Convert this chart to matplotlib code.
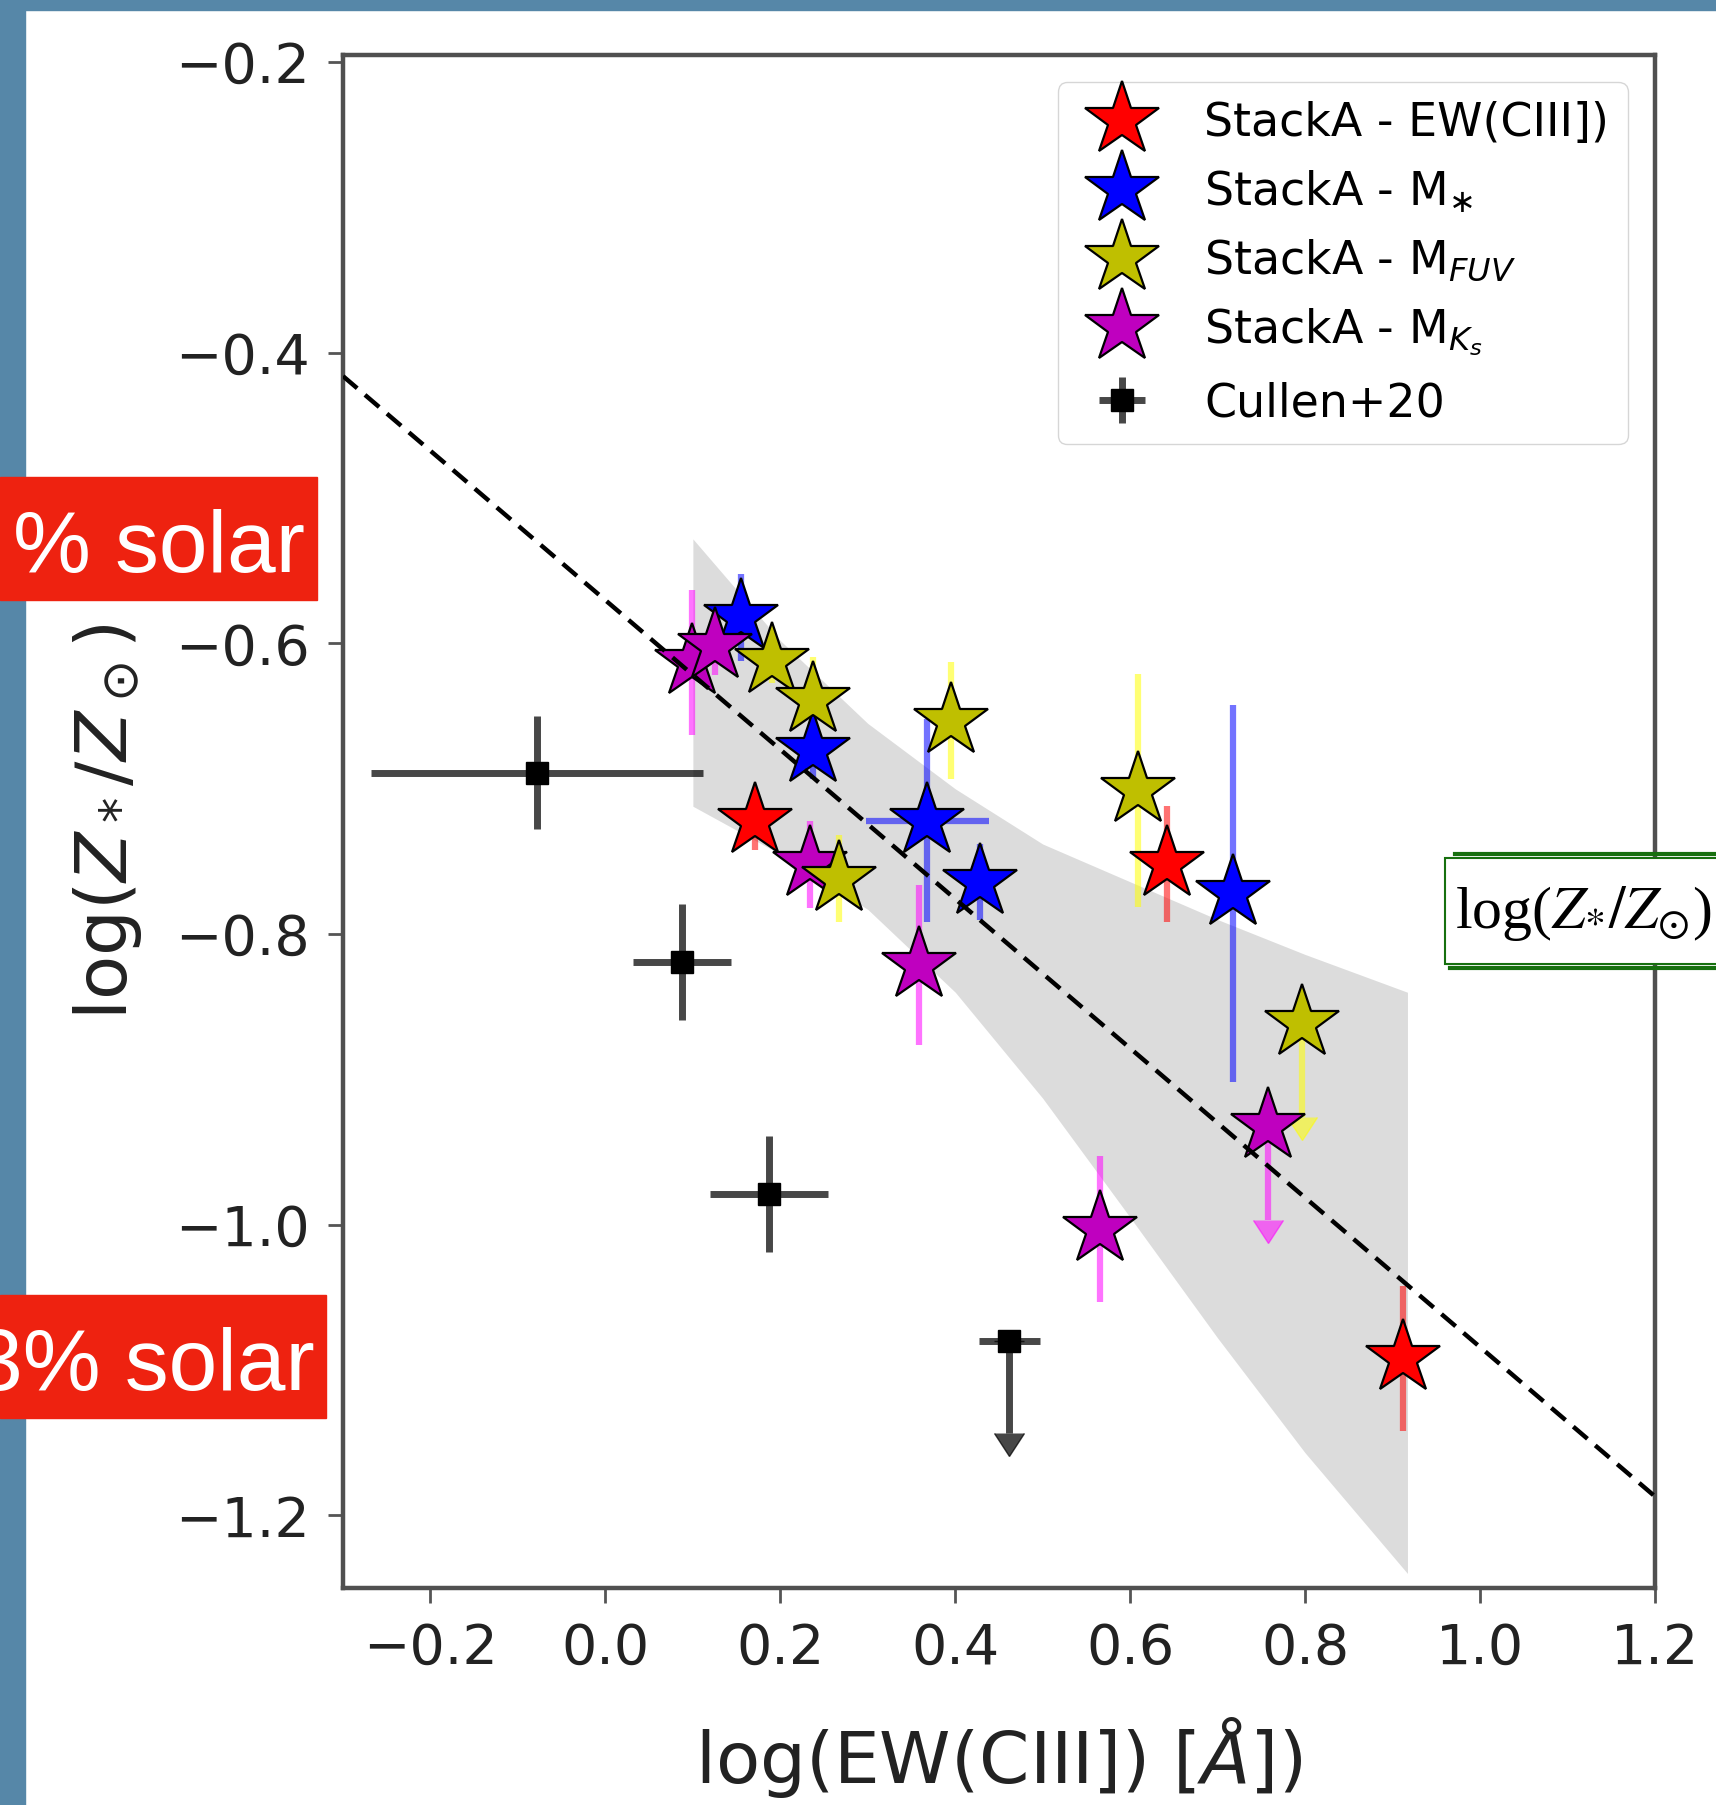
import matplotlib
matplotlib.use("Agg")
import matplotlib.pyplot as plt
import numpy as np
from matplotlib.patches import Rectangle
from matplotlib.lines import Line2D

# StackA points, log(EW(CIII])) vs log(Z*/Zsun)
ew_x = [0.171, 0.642, 0.912]
ew_y = [-0.722, -0.752, -1.092]
ew_yerr = [0.02, 0.04, 0.05]
ew_uplim = [False, False, False]

mstar_x = [0.155, 0.237, 0.368, 0.428, 0.717]
mstar_y = [-0.582, -0.673, -0.722, -0.764, -0.772]
mstar_xerr = [0.0, 0.0, 0.07, 0.0, 0.0]
mstar_yerr = [0.03, 0.02, 0.07, 0.026, 0.13]
mstar_uplim = [False, False, False, False, False]

mfuv_x = [0.191, 0.237, 0.267, 0.395, 0.609, 0.796]
mfuv_y = [-0.612, -0.639, -0.762, -0.653, -0.701, -0.861]
mfuv_yerr = [0.015, 0.03, 0.03, 0.04, 0.08, 0.065]
mfuv_uplim = [False, False, False, False, False, True]

mks_x = [0.099, 0.125, 0.234, 0.358, 0.566, 0.757]
mks_y = [-0.613, -0.602, -0.752, -0.821, -1.003, -0.932]
mks_yerr = [0.05, 0.02, 0.03, 0.055, 0.05, 0.065]
mks_uplim = [False, False, False, False, False, True]

cullen_x = [-0.078, 0.088, 0.187, 0.462]
cullen_y = [-0.689, -0.819, -0.979, -1.080]
cullen_xerr = [0.19, 0.056, 0.067, 0.035]
cullen_yerr = [0.039, 0.04, 0.04, 0.063]
cullen_uplim = [False, False, False, True]

# fit line end points and confidence band
fit_x = [-0.3, 1.2]
fit_y = [-0.416, -1.187]
band_x = [0.1, 0.2, 0.3, 0.4, 0.5, 0.6, 0.7, 0.8, 0.917]
band_hi = [-0.528, -0.598, -0.655, -0.700, -0.738, -0.764, -0.790, -0.814, -0.840]
band_lo = [-0.712, -0.745, -0.783, -0.840, -0.913, -0.995, -1.078, -1.157, -1.240]

xticks = [-0.2, 0.0, 0.2, 0.4, 0.6, 0.8, 1.0, 1.2]
yticks = [-1.2, -1.0, -0.8, -0.6, -0.4, -0.2]

W, H = 1716, 1805
fig = plt.figure(figsize=(W / 100, H / 100), dpi=100)
fig.patch.set_facecolor("white")

# slide background strips
fig.add_artist(Rectangle((0, 0), 25 / W, 1, transform=fig.transFigure, color="#5687a8", zorder=0))
fig.add_artist(Rectangle((0, 1 - 10 / H), 1, 10 / H, transform=fig.transFigure, color="#5687a8", zorder=0))

ax = fig.add_axes([343 / W, 1 - 1588 / H, 1312 / W, 1533 / H])
ax.set_xlim(-0.3, 1.2)
ax.set_ylim(-1.25, -0.195)

ax.fill_between(band_x, band_lo, band_hi, color="grey", alpha=0.27, linewidth=0, zorder=1)
ax.plot(fit_x, fit_y, color="black", lw=3.2, dashes=(4.2, 2.3), zorder=5)


def stack(x, y, yerr, uplim, color, ecolor, label, xerr=None):
    x = np.array(x); y = np.array(y); yerr = np.array(yerr); uplim = np.array(uplim)
    ok = ~uplim
    xe = None if xerr is None else np.array(xerr)[ok]
    ax.errorbar(x[ok], y[ok], yerr=yerr[ok], xerr=xe, fmt="none", color=ecolor, ecolor=ecolor,
                alpha=0.55, elinewidth=4.5, capsize=0, zorder=2)
    if uplim.any():
        ax.errorbar(x[uplim], y[uplim], yerr=yerr[uplim], uplims=True, fmt="none",
                    color=ecolor, ecolor=ecolor, alpha=0.55, elinewidth=4.5, capsize=11, zorder=2)
    h, = ax.plot(x, y, ls="none", marker="*", ms=56, mfc=color, mec="black",
                 mew=1.6, zorder=3, label=label)
    return h


h_ew = stack(ew_x, ew_y, ew_yerr, ew_uplim, "red", "red", "StackA - EW(CIII])")
h_ms = stack(mstar_x, mstar_y, mstar_yerr, mstar_uplim, "blue", "blue",
             r"StackA - M$_{\ast}$", xerr=mstar_xerr)
h_mk = stack(mks_x, mks_y, mks_yerr, mks_uplim, "m", "magenta", r"StackA - M$_{K_s}$")
h_fu = stack(mfuv_x, mfuv_y, mfuv_yerr, mfuv_uplim, "y", "yellow", r"StackA - M$_{FUV}$")

cx = np.array(cullen_x); cy = np.array(cullen_y)
cxe = np.array(cullen_xerr); cye = np.array(cullen_yerr); cl = np.array(cullen_uplim)
cgrey = (0, 0, 0, 0.72)
h_cu = ax.errorbar(cx[~cl], cy[~cl], xerr=cxe[~cl], yerr=cye[~cl], fmt="s", color="black",
                   ms=16, ecolor=cgrey, elinewidth=5, zorder=2, label="Cullen+20")
ax.errorbar(cx[cl], cy[cl], xerr=cxe[cl], fmt="none", color=cgrey, ecolor=cgrey, elinewidth=5, zorder=2)
ax.errorbar(cx[cl], cy[cl], yerr=cye[cl], uplims=True, fmt="none", color=cgrey, ecolor=cgrey,
            elinewidth=5, capsize=11, zorder=2)
ax.plot(cx[cl], cy[cl], ls="none", marker="s", ms=16, color="black", zorder=2)

ax.legend(handles=[h_ew, h_ms, h_fu, h_mk, h_cu], loc="upper right", fontsize=33,
          borderaxespad=0.6)

ax.set_xticks(xticks)
ax.set_yticks(yticks)
ax.tick_params(labelsize=40, length=11, width=2, pad=13, colors="#555555", labelcolor="#222222")
for sp in ax.spines.values():
    sp.set_linewidth(3.2)
    sp.set_color("#505050")

ax.set_xlabel(r"log(EW(CIII]) [$Å$])", fontsize=52, color="#222222")
ax.set_ylabel(r"log($Z_*/Z_\odot$)", fontsize=52, color="#222222")
ax.xaxis.set_label_coords(0.5, -0.083)
ax.yaxis.set_label_coords(-0.152, 0.5)

# red annotation boxes
red = "#ee2210"
fig.add_artist(Rectangle((0, 1 - 600 / H), 317 / W, 123 / H, transform=fig.transFigure,
                         color=red, zorder=6))
fig.add_artist(Rectangle((0, 1 - 1418 / H), 326 / W, 123 / H, transform=fig.transFigure,
                         color=red, zorder=6))
fig.text(305 / W, 1 - 572 / H, "% solar", ha="right", va="baseline", color="white",
         fontsize=63, family="Liberation Sans", zorder=7)
fig.text(315 / W, 1 - 1390 / H, "3% solar", ha="right", va="baseline", color="white",
         fontsize=63, family="Liberation Sans", zorder=7)

# green sketch box on the right
green = "#17700f"
fig.add_artist(Rectangle((1445 / W, 1 - 964 / H), 300 / W, 106 / H, transform=fig.transFigure,
                         facecolor="white", edgecolor=green, lw=1.5, zorder=6))
fig.add_artist(Line2D([1455 / W, 1], [1 - 854 / H, 1 - 854 / H], transform=fig.transFigure,
                      color=green, lw=3, zorder=7))
fig.add_artist(Line2D([1450 / W, 1], [1 - 968 / H, 1 - 968 / H], transform=fig.transFigure,
                      color=green, lw=3, zorder=7))
fig.text(1455 / W, 1 - 928 / H, r"log($Z_{*}/Z_{\odot}$)", ha="left", va="baseline",
         fontsize=43, family="Liberation Serif", math_fontfamily="stix", color="black", zorder=8)

fig.savefig("out.png", dpi=100)
